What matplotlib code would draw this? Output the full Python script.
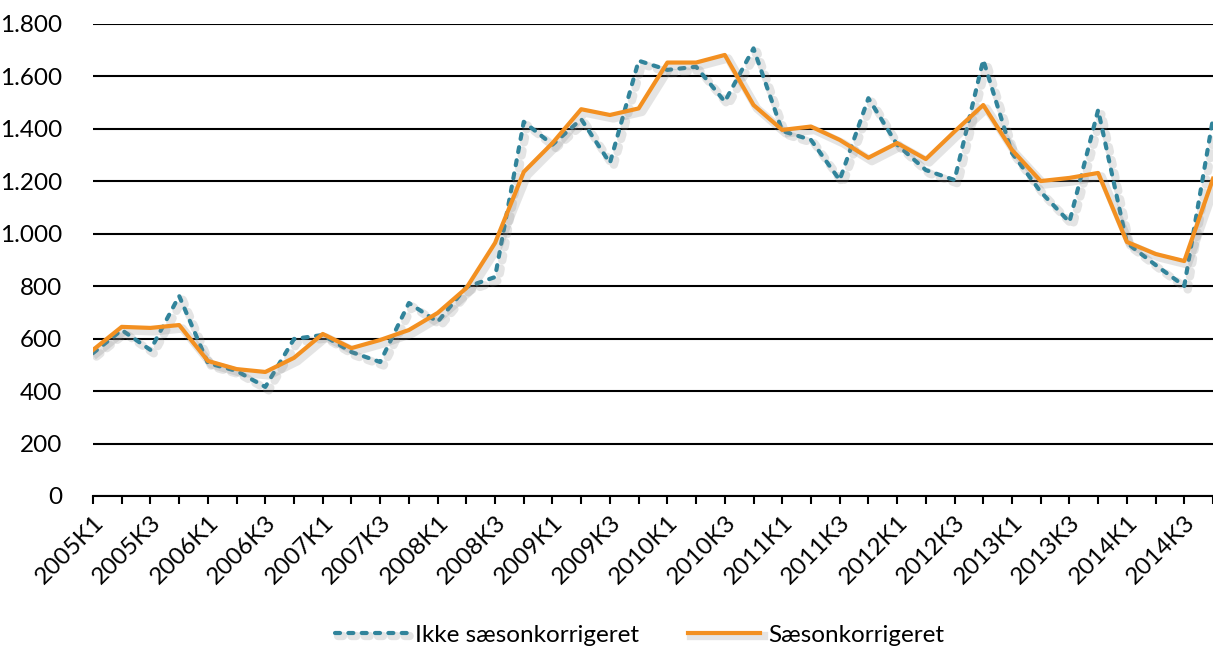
import numpy as np
import matplotlib.pyplot as plt
import matplotlib.patheffects as pe
from matplotlib.ticker import FuncFormatter

plt.rcParams['font.family'] = ['Lato', 'DejaVu Sans']

# quarters 2005K1 .. 2014K4
quarters = [f"{y}K{q}" for y in range(2005, 2015) for q in range(1, 5)]

ikke_saeson = [545, 633, 557, 763, 507, 477, 416, 599, 614, 549,
               511, 736, 664, 797, 835, 1427, 1340, 1437, 1270, 1660,
               1625, 1637, 1504, 1707, 1392, 1358, 1205, 1517, 1340, 1243,
               1205, 1663, 1308, 1160, 1045, 1472, 965, 881, 801, 1440]
saeson = [557, 645, 641, 652, 515, 484, 473, 527, 618, 564,
          595, 633, 698, 793, 965, 1236, 1346, 1475, 1453, 1478,
          1653, 1653, 1682, 1491, 1396, 1409, 1358, 1290, 1346, 1285,
          1390, 1491, 1320, 1201, 1213, 1232, 969, 923, 896, 1210]

teal = '#31849B'
orange = '#F39021'

fig = plt.figure(figsize=(12.13, 6.46), dpi=100)
ax = fig.add_axes([93 / 1213, 1 - 496 / 646, 1 - 93 / 1213, (496 - 24) / 646])

x = np.arange(len(quarters))
shadow = [pe.SimpleLineShadow(offset=(2.5, -2.5), shadow_color='#888888', alpha=0.22, linewidth=6),
          pe.Normal()]

ax.plot(x, ikke_saeson, color=teal, lw=3, linestyle=(0, (1.2, 2.0)),
        dash_capstyle='round', label='Ikke sæsonkorrigeret', path_effects=shadow, zorder=3)
ax.plot(x, saeson, color=orange, lw=3, label='Sæsonkorrigeret',
        path_effects=shadow, zorder=4)

ax.set_ylim(0, 1800)
ax.set_yticks(range(0, 1801, 200))
ax.yaxis.set_major_formatter(FuncFormatter(lambda v, p: f"{int(v):,}".replace(',', '.')))
ax.grid(axis='y', color='black', lw=1.5)
ax.set_axisbelow(True)

ax.set_xlim(0, 38 + 19 / 28.97)
ax.set_xticks(x)
ax.set_xticklabels([q if i % 2 == 0 else '' for i, q in enumerate(quarters)],
                   rotation=45, ha='right', rotation_mode='anchor')

for s in ['top', 'right', 'left']:
    ax.spines[s].set_visible(False)
ax.spines['bottom'].set_linewidth(1.5)
ax.tick_params(axis='x', length=6, width=1.5, labelsize=17.5, pad=5)
ax.tick_params(axis='y', length=0, labelsize=17.5, pad=22)

fig.legend(loc='center', bbox_to_anchor=(0.527, 11 / 646), ncol=2, frameon=False,
           fontsize=17.5, handlelength=3.0, handletextpad=0.3, columnspacing=2.0)

fig.savefig('out.png', dpi=100)
